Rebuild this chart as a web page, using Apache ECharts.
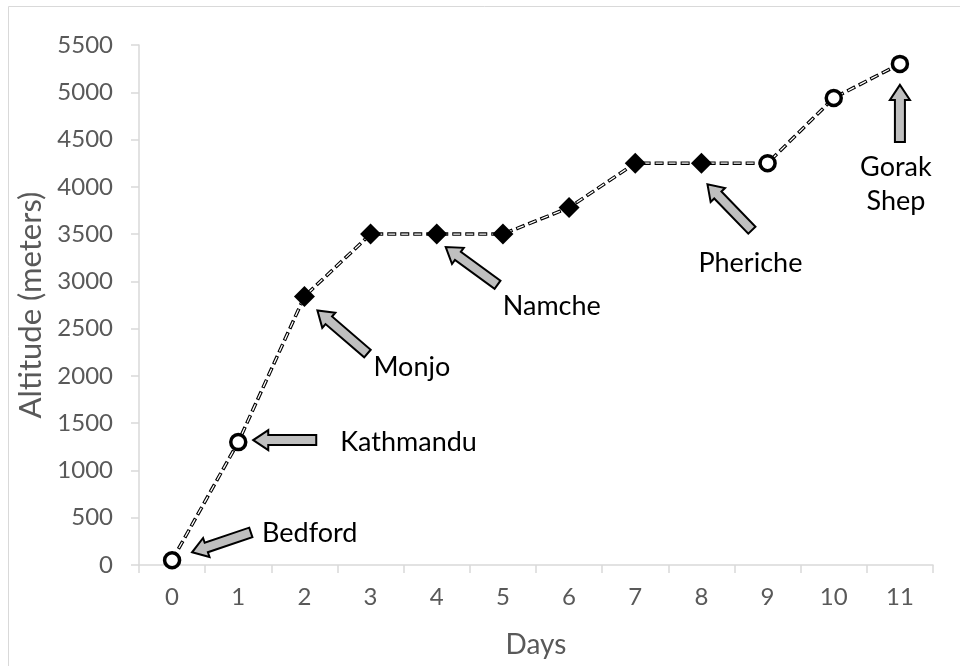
<!DOCTYPE html>
<html>
<head>
<meta charset="utf-8">
<script src="https://cdn.jsdelivr.net/npm/echarts@6/dist/echarts.min.js"></script>
<style>
  html, body { margin: 0; padding: 0; background: #ffffff; }
  #chart { width: 960px; height: 666px; }
</style>
</head>
<body>
<div id="chart"></div>
<script>
// ---- data ----
const days = ['0', '1', '2', '3', '4', '5', '6', '7', '8', '9', '10', '11'];
const altitude = [50, 1300, 2840, 3500, 3500, 3500, 3780, 4250, 4250, 4250, 4940, 5300];
const markerKind = ['open', 'open', 'filled', 'filled', 'filled', 'filled', 'filled', 'filled', 'filled', 'open', 'open', 'open'];
const yTicks = { min: 0, max: 5500, interval: 500 };
const placeNames = ['Bedford', 'Kathmandu', 'Monjo', 'Namche', 'Pheriche', 'Gorak\nShep'];
const placeDays = [0, 1, 2, 4, 8, 11];

// ---- annotation styling (pixel offsets relative to the data point) ----
const annoStyle = [
  { tip: [20, -8], angle: -18.7, len: 62, text: [90, -27], align: 'left' },
  { tip: [15, -2], angle: 0, len: 63, text: [102, 0], align: 'left' },
  { tip: [13, 14], angle: 40.7, len: 66, text: [69, 71], align: 'left' },
  { tip: [9, 13], angle: 36, len: 64, text: [66, 72], align: 'left' },
  { tip: [6, 21], angle: 46, len: 64, text: [-3, 100], align: 'left' },
  { tip: [0, 21], angle: 90, len: 57, text: [-4, 120], align: 'center' }
];

const FONT = 'Lato';
const chart = echarts.init(document.getElementById('chart'), null, { renderer: 'canvas' });

const symbolData = altitude.map((v, i) => (
  markerKind[i] === 'open'
    ? { value: v, symbol: 'circle', symbolSize: 15, itemStyle: { color: '#ffffff', borderColor: '#000000', borderWidth: 3.5, opacity: 1 } }
    : { value: v, symbol: 'diamond', symbolSize: 21, itemStyle: { color: '#000000', borderColor: '#000000', borderWidth: 0, opacity: 1 } }
));

chart.setOption({
  animation: false,
  backgroundColor: '#ffffff',
  grid: { left: 139, right: 27, top: 45, bottom: 101 },
  xAxis: {
    type: 'category',
    data: days,
    boundaryGap: true,
    name: 'Days',
    nameLocation: 'middle',
    nameGap: 66,
    nameTextStyle: { fontFamily: FONT, fontSize: 28, color: '#595959' },
    axisLine: { show: true, lineStyle: { color: '#d9d9d9', width: 1.5 } },
    axisTick: { show: true, alignWithLabel: false, length: 8, lineStyle: { color: '#d9d9d9', width: 1.5 } },
    axisLabel: { fontFamily: FONT, fontSize: 24, color: '#595959', margin: 20 },
    splitLine: { show: false }
  },
  yAxis: {
    type: 'value',
    min: yTicks.min,
    max: yTicks.max,
    interval: yTicks.interval,
    name: 'Altitude (meters)',
    nameLocation: 'middle',
    nameGap: 86,
    nameTextStyle: { fontFamily: FONT, fontSize: 31, color: '#595959' },
    axisLine: { show: true, lineStyle: { color: '#d9d9d9', width: 1.5 } },
    axisTick: { show: true, length: 8, lineStyle: { color: '#d9d9d9', width: 1.5 } },
    axisLabel: { fontFamily: FONT, fontSize: 24, color: '#595959', margin: 26, formatter: v => String(v) },
    splitLine: { show: false }
  },
  series: [
    {
      type: 'line', data: altitude, showSymbol: false, symbol: 'none', silent: true, z: 2,
      lineStyle: { color: '#000000', width: 3.5, type: [9, 4] }
    },
    {
      type: 'line', data: altitude, showSymbol: false, symbol: 'none', silent: true, z: 3,
      lineStyle: { color: '#ffffff', width: 1.3, type: [7, 6], dashOffset: -1 }
    },
    {
      type: 'scatter', data: symbolData, z: 4, itemStyle: { opacity: 1 }
    }
  ]
});

function arrowPoints(tip, angleDeg, len) {
  const hl = 15, hw = 10, sw = 5;
  const local = [[0, 0], [hl, hw], [hl, sw], [len, sw], [len, -sw], [hl, -sw], [hl, -hw]];
  const a = angleDeg * Math.PI / 180, c = Math.cos(a), s = Math.sin(a);
  return local.map(p => [tip[0] + p[0] * c - p[1] * s, tip[1] + p[0] * s + p[1] * c]);
}

const graphics = [{
  type: 'rect', silent: true, z: 0,
  shape: { x: 8.5, y: 6.5, width: 1000, height: 1000 },
  style: { fill: 'none', stroke: '#d9d9d9', lineWidth: 1 }
}];

placeNames.forEach((name, k) => {
  const d = placeDays[k];
  const px = chart.convertToPixel({ seriesIndex: 0 }, [d, altitude[d]]);
  const st = annoStyle[k];
  const tip = [px[0] + st.tip[0], px[1] + st.tip[1]];
  graphics.push({
    type: 'polygon', z: 10, silent: true,
    shape: { points: arrowPoints(tip, st.angle, st.len) },
    style: { fill: '#bfbfbf', stroke: '#000000', lineWidth: 2, lineJoin: 'miter' }
  });
  graphics.push({
    type: 'text', z: 10, silent: true,
    x: px[0] + st.text[0], y: px[1] + st.text[1],
    style: {
      text: name, fontFamily: FONT, fontSize: 27, fill: '#000000',
      align: st.align, verticalAlign: 'middle', lineHeight: 34
    }
  });
});

chart.setOption({ graphic: graphics });
</script>
</body>
</html>
